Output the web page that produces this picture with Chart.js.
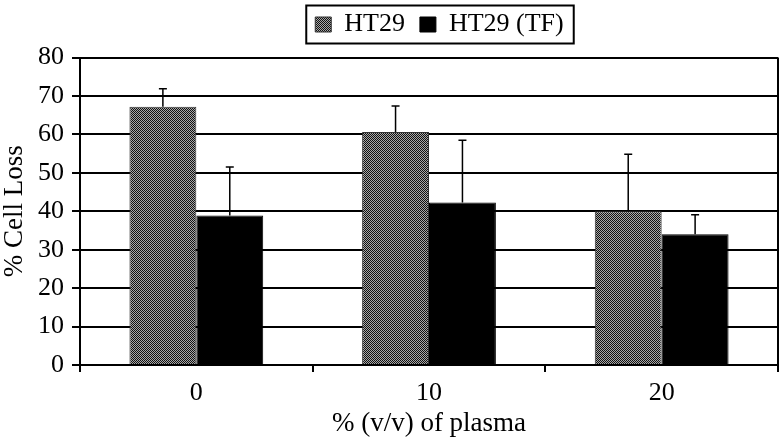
<!DOCTYPE html>
<html>
<head>
<meta charset="utf-8">
<script src="https://cdn.jsdelivr.net/npm/chart.js@4"></script>
<style>
  html, body { margin: 0; background: #fff; }
  #wrap { width: 780px; height: 437px; }
</style>
</head>
<body>
<div id="wrap"><canvas id="chart"></canvas></div>
<script>
// data
const categories = ['0', '10', '20'];
const ht29 = [67.2, 60.6, 40.0];
const ht29Err = [4.7, 6.8, 14.8];
const ht29tf = [38.9, 42.3, 34.0];
const ht29tfErr = [12.6, 16.2, 5.1];

const serif = "'Liberation Serif', 'DejaVu Serif', serif";

// checkered fill like the scanned grey bars
function makePattern() {
    const p = document.createElement('canvas');
    p.width = 2; p.height = 2;
    const g = p.getContext('2d');
    g.fillStyle = '#a8a8a8';
    g.fillRect(0, 0, 2, 2);
    g.fillStyle = '#111';
    g.fillRect(0, 0, 1, 1);
    g.fillRect(1, 1, 1, 1);
    return g.createPattern(p, 'repeat');
}

/* =========================
   plugins
========================= */
const errorBars = {
    id: 'errorBars',
    afterDatasetsDraw(chart) {
        const ctx = chart.ctx;
        const y = chart.scales.y;
        chart.data.datasets.forEach((ds, i) => {
            const meta = chart.getDatasetMeta(i);
            meta.data.forEach((bar, j) => {
                const top = y.getPixelForValue(ds.data[j] + ds.errors[j]);
                ctx.save();
                ctx.strokeStyle = '#000';
                ctx.lineWidth = 1.5;
                ctx.beginPath();
                ctx.moveTo(bar.x, bar.y);
                ctx.lineTo(bar.x, top);
                ctx.moveTo(bar.x - 4, top);
                ctx.lineTo(bar.x + 4, top);
                ctx.stroke();
                ctx.restore();
            });
        });
    }
};

const frame = {
    id: 'frame',
    // the legend sits right of the canvas centre and close to the top
    afterLayout(chart) {
        const lg = chart.legend;
        lg.left += 50;
        lg.right += 50;
        lg.top -= 10;
        lg.bottom -= 10;
    },
    afterDraw(chart) {
        const ctx = chart.ctx;
        const a = chart.chartArea;
        ctx.save();
        ctx.strokeStyle = '#000';
        ctx.lineWidth = 2;
        ctx.beginPath();
        ctx.moveTo(a.right, a.top);
        ctx.lineTo(a.right, a.bottom);
        ctx.stroke();

        // box round the legend
        const boxes = chart.legend.legendHitBoxes;
        if (boxes && boxes.length) {
            const l = Math.min(...boxes.map(b => b.left)) - 9;
            const r = Math.max(...boxes.map(b => b.left + b.width)) + 10;
            const t = Math.min(...boxes.map(b => b.top)) - 6;
            const btm = Math.max(...boxes.map(b => b.top + b.height)) + 6;
            ctx.lineWidth = 2;
            ctx.strokeRect(l, t, r - l, btm - t);
        }
        ctx.restore();
    }
};

/* =========================
   chart
========================= */
new Chart(document.getElementById('chart'), {
    type: 'bar',
    data: {
        labels: categories,
        datasets: [{
            label: 'HT29',
            data: ht29,
            errors: ht29Err,
            backgroundColor: makePattern(),
            borderColor: '#333',
            borderWidth: 1
        }, {
            label: 'HT29 (TF)',
            data: ht29tf,
            errors: ht29tfErr,
            backgroundColor: '#000',
            borderColor: '#000',
            borderWidth: 1
        }]
    },
    options: {
        responsive: true,
        maintainAspectRatio: false,
        animation: false,
        datasets: { bar: { categoryPercentage: 0.575, barPercentage: 1 } },
        layout: { padding: { top: 6.5, right: 2, left: 1, bottom: 0 } },
        plugins: {
            legend: {
                position: 'top',
                labels: {
                    color: '#000',
                    font: { family: serif, size: 26 },
                    boxWidth: 16,
                    boxHeight: 15,
                    padding: 15
                }
            },
            tooltip: { enabled: false }
        },
        scales: {
            x: {
                grid: {
                    offset: true,
                    drawOnChartArea: false,
                    drawTicks: true,
                    tickLength: 7,
                    color: '#000',
                    lineWidth: 2
                },
                border: { color: '#000', width: 2 },
                ticks: { color: '#000', font: { family: serif, size: 26, lineHeight: 1 }, padding: 8 },
                title: {
                    display: true,
                    text: '% (v/v) of plasma',
                    color: '#000',
                    font: { family: serif, size: 27, lineHeight: 1 },
                    padding: { top: -4, bottom: 0 }
                }
            },
            y: {
                min: 0,
                max: 80,
                ticks: { stepSize: 10, color: '#000', font: { family: serif, size: 26 }, padding: 8 },
                grid: { color: '#000', lineWidth: 2, tickLength: 8 },
                border: { color: '#000', width: 2 },
                title: {
                    display: true,
                    text: '% Cell Loss',
                    color: '#000',
                    font: { family: serif, size: 27, lineHeight: 1 },
                    padding: { top: 0, bottom: 2 }
                }
            }
        }
    },
    plugins: [errorBars, frame]
});
</script>
</body>
</html>
